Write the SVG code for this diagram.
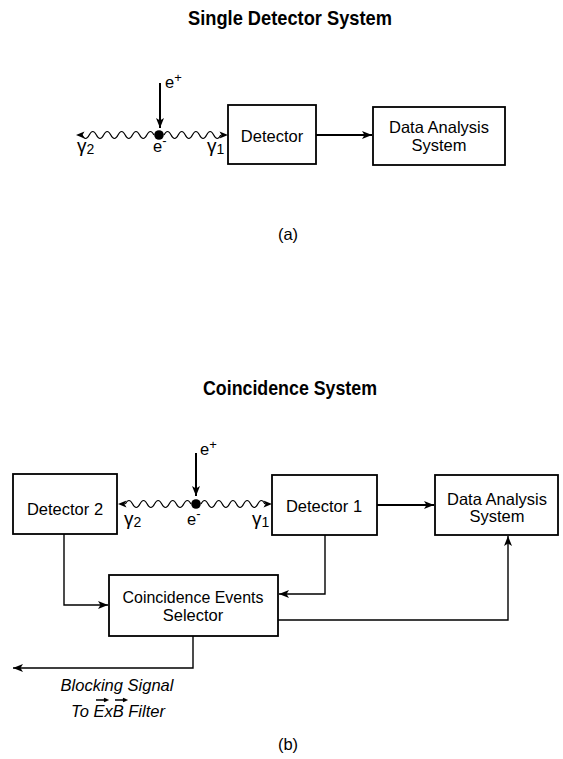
<svg xmlns="http://www.w3.org/2000/svg" width="563" height="759" viewBox="0 0 563 759">
  <style>
    .box { fill: #fff; stroke: #000; stroke-width: 1.8; }
    .lbl { font-family: "Liberation Sans", Arial, sans-serif; font-size: 16.5px; fill: #000; text-anchor: middle; }
    .ttl { font-family: "Liberation Sans", Arial, sans-serif; font-size: 21px; font-weight: bold; fill: #000; text-anchor: middle; }
    .sym { font-family: "Liberation Sans", Arial, sans-serif; font-size: 16.5px; fill: #000; }
    .gam { font-family: "Liberation Sans", Arial, sans-serif; font-size: 19px; fill: #000; }
    .ital { font-family: "Liberation Sans", Arial, sans-serif; font-size: 16.5px; font-style: italic; fill: #000; text-anchor: middle; }
    .wire { fill: none; stroke: #000; stroke-width: 1.4; }
    .thick { fill: none; stroke: #000; stroke-width: 2; }
    .wave { fill: none; stroke: #000; stroke-width: 1.2; }
    .head { fill: #000; stroke: none; }
  </style>
  <defs>
    <marker id="arr" markerUnits="userSpaceOnUse" markerWidth="11" markerHeight="9" refX="10" refY="4" orient="auto">
      <path d="M0,0 L10,4 L0,8 L2.5,4 z" fill="#000"/>
    </marker>
  </defs>

  <!-- (a) single detector system -->
  <g id="title-a">
    <text class="ttl" x="290" y="25" textLength="204" lengthAdjust="spacingAndGlyphs">Single Detector System</text>
  </g>

  <g id="annihilation-a">
    <line class="thick" x1="160" y1="83" x2="160" y2="128" marker-end="url(#arr)"/>
    <text class="sym" x="165" y="88">e<tspan font-size="13" dy="-6">+</tspan></text>
    <circle cx="159" cy="135" r="4.8" fill="#000"/>
    <path class="wave" d="M154,135 q-3.6,-7 -7.2,0 t-7.2,0 t-7.2,0 t-7.2,0 t-7.2,0 t-7.2,0 t-7.2,0 t-7.2,0 t-7.2,0 t-7.2,0"/>
    <polygon class="head" points="76,135 84.5,131.5 82.5,135 84.5,138.5"/>
    <path class="wave" d="M164,135 q3.55,-7 7.1,0 t7.1,0 t7.1,0 t7.1,0 t7.1,0 t7.1,0 t7.1,0 t7.1,0"/>
    <polygon class="head" points="228,135 219.5,131.5 221.5,135 219.5,138.5"/>
    <text class="gam" x="77" y="152">γ<tspan font-size="14" dy="2">2</tspan></text>
    <text class="sym" x="153" y="152">e<tspan font-size="13" dy="-7">-</tspan></text>
    <text class="gam" x="207" y="152">γ<tspan font-size="14" dy="2">1</tspan></text>
  </g>

  <g id="detector">
    <rect class="box" x="228" y="105" width="88" height="59"/>
    <text class="lbl" x="272" y="142">Detector</text>
  </g>

  <g id="data-analysis-a">
    <rect class="box" x="373" y="107" width="132" height="58"/>
    <text class="lbl" x="439" y="133">Data Analysis</text>
    <text class="lbl" x="439" y="151">System</text>
  </g>

  <g id="connectors-a">
    <line class="thick" x1="316" y1="135" x2="372" y2="135" marker-end="url(#arr)"/>
  </g>

  <g id="caption-a">
    <text class="lbl" x="288" y="240">(a)</text>
  </g>

  <!-- (b) coincidence system -->
  <g id="title-b">
    <text class="ttl" x="290" y="395" textLength="174" lengthAdjust="spacingAndGlyphs">Coincidence System</text>
  </g>

  <g id="annihilation-b">
    <line class="thick" x1="196" y1="453" x2="196" y2="496" marker-end="url(#arr)"/>
    <text class="sym" x="200" y="455">e<tspan font-size="13" dy="-6">+</tspan></text>
    <circle cx="196" cy="504" r="4.8" fill="#000"/>
    <path class="wave" d="M191,504 q-3.65,-7 -7.3,0 t-7.3,0 t-7.3,0 t-7.3,0 t-7.3,0 t-7.3,0 t-7.3,0 t-7.3,0 t-7.3,0"/>
    <polygon class="head" points="118,504 126.5,500.5 124.5,504 126.5,507.5"/>
    <path class="wave" d="M201,504 q3.55,-7 7.1,0 t7.1,0 t7.1,0 t7.1,0 t7.1,0 t7.1,0 t7.1,0 t7.1,0 t7.1,0"/>
    <polygon class="head" points="272,504 263.5,500.5 265.5,504 263.5,507.5"/>
    <text class="gam" x="124" y="525">γ<tspan font-size="14" dy="2">2</tspan></text>
    <text class="sym" x="187" y="525">e<tspan font-size="13" dy="-7">-</tspan></text>
    <text class="gam" x="252" y="525">γ<tspan font-size="14" dy="2">1</tspan></text>
  </g>

  <g id="detector-2">
    <rect class="box" x="13" y="474" width="104" height="60"/>
    <text class="lbl" x="65" y="515">Detector 2</text>
  </g>

  <g id="detector-1">
    <rect class="box" x="272" y="475" width="105" height="60"/>
    <text class="lbl" x="324" y="512">Detector 1</text>
  </g>

  <g id="data-analysis-b">
    <rect class="box" x="435" y="475" width="123" height="60"/>
    <text class="lbl" x="497" y="505">Data Analysis</text>
    <text class="lbl" x="497" y="522">System</text>
  </g>

  <g id="coincidence-selector">
    <rect class="box" x="109" y="575" width="169" height="61"/>
    <text class="lbl" x="193" y="603" textLength="141" lengthAdjust="spacingAndGlyphs">Coincidence Events</text>
    <text class="lbl" x="193" y="621">Selector</text>
  </g>

  <g id="connectors-b">
    <line class="thick" x1="377" y1="505" x2="434" y2="505" marker-end="url(#arr)"/>
    <polyline class="wire" points="64,534 64,605 108,605" marker-end="url(#arr)"/>
    <polyline class="wire" points="325,535 325,594 279,594" marker-end="url(#arr)"/>
    <polyline class="wire" points="278,620 508,620 508,536" marker-end="url(#arr)"/>
    <polyline class="wire" points="193,636 193,668 13,668" marker-end="url(#arr)"/>
  </g>

  <g id="blocking-label">
    <text class="ital" x="117" y="691">Blocking Signal</text>
    <text class="ital" x="118" y="717">To ExB Filter</text>
    <!-- vector arrows over E and B -->
    <path class="wire" stroke-width="1" d="M96,700 L107,700 M104,698.3 L107.5,700 L104,701.7"/>
    <path class="wire" stroke-width="1" d="M115,700 L126,700 M123,698.3 L126.5,700 L123,701.7"/>
  </g>

  <g id="caption-b">
    <text class="lbl" x="288" y="750">(b)</text>
  </g>
</svg>
